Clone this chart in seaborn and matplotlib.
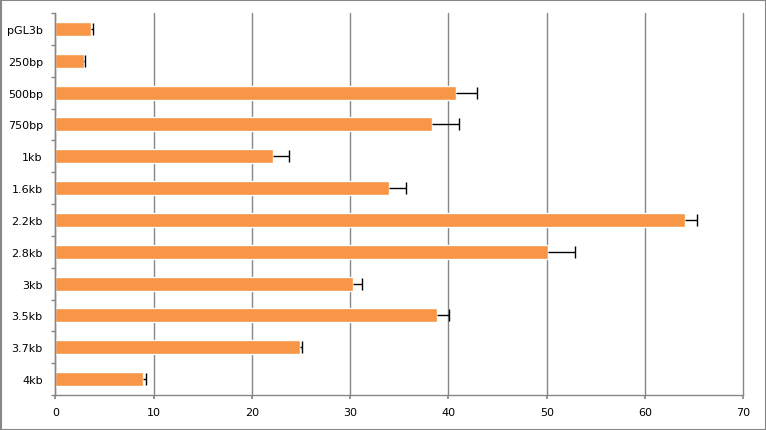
import numpy as np
import pandas as pd
import matplotlib
matplotlib.use("Agg")
import matplotlib.pyplot as plt
import seaborn as sns
from matplotlib.patches import Rectangle

categories = ["pGL3b", "250bp", "500bp", "750bp", "1kb", "1.6kb", "2.2kb",
              "2.8kb", "3kb", "3.5kb", "3.7kb", "4kb"]
values = [3.65, 2.95, 40.8, 38.3, 22.2, 34.0, 64.1, 50.1, 30.3, 38.8, 24.9, 8.95]
errors = [0.15, 0.1, 2.1, 2.8, 1.6, 1.7, 1.2, 2.75, 0.9, 1.3, 0.2, 0.25]
xticks = [0, 10, 20, 30, 40, 50, 60, 70]

sns.set_theme(style="white")
plt.rcParams['font.family'] = ['DejaVu Sans']

df = pd.DataFrame({"construct": categories, "value": values})

fig = plt.figure(figsize=(7.66, 4.31), dpi=100)
ax = fig.add_axes([55.3 / 766, 1 - 396 / 431, (743.3 - 55.3) / 766, (396 - 14) / 431])

sns.barplot(data=df, x="value", y="construct", color="#F79646", saturation=1,
            width=0.44, errorbar=None, ax=ax, zorder=2)

ypos = np.arange(len(categories))
eb = ax.errorbar(values, ypos, xerr=[np.zeros(len(errors)), errors], fmt="none",
                 ecolor="black", elinewidth=1, capsize=4, capthick=1, zorder=3)
# plus-only error bars: hide the caps sitting at the bar ends
eb[1][0].set_visible(False)

gray = "#868686"
ax.set_xlim(0, 70)
ax.set_ylim(len(categories) - 0.5, -0.5)
ax.set_xticks(xticks)
ax.set_xticklabels([str(t) for t in xticks])
ax.set_xlabel("")
ax.set_ylabel("")
ax.xaxis.grid(True, color=gray, linewidth=1)
ax.yaxis.grid(False)
ax.set_axisbelow(True)
for line in ax.get_xgridlines():
    line.set_clip_on(False)
for s in ["top", "right"]:
    ax.spines[s].set_visible(False)
for s in ["left", "bottom"]:
    ax.spines[s].set_color(gray)
    ax.spines[s].set_linewidth(1)

ax.set_yticks(np.arange(-0.5, len(categories), 1.0), minor=True)
ax.tick_params(axis="y", which="major", length=0, pad=9, labelsize=8, labelcolor="black")
ax.tick_params(axis="y", which="minor", length=3, color=gray, direction="out", left=True)
ax.tick_params(axis="x", which="major", length=3, color=gray, direction="out",
               bottom=True, pad=6, labelsize=8, labelcolor="black")

fig.add_artist(Rectangle((0.5 / 766, 0.5 / 431), 765 / 766, 430 / 431,
                         transform=fig.transFigure, fill=False, edgecolor=gray, linewidth=1.5))

fig.savefig("out.png", dpi=100, facecolor="white")
